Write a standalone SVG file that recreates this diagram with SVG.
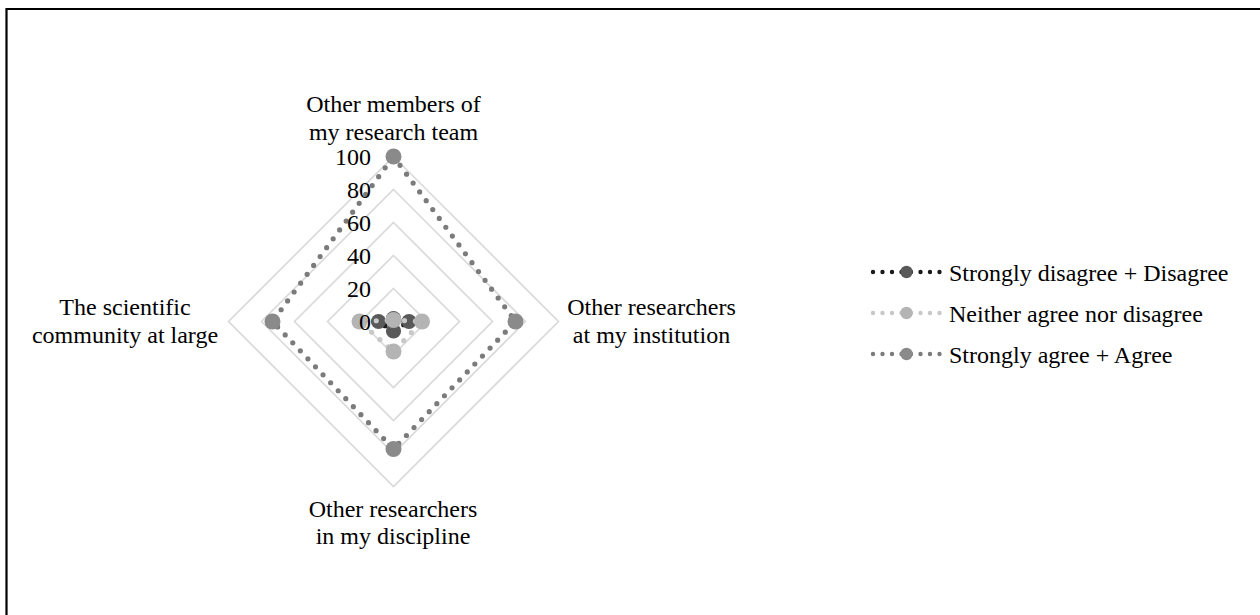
<svg xmlns="http://www.w3.org/2000/svg" width="1260" height="615" viewBox="0 0 1260 615">
<style>
  text { font-family: "Liberation Serif", "Times New Roman", serif; font-size: 24px; fill: #000; }
  .mid { text-anchor: middle; }
  .end { text-anchor: end; }
  .grid { fill: none; stroke: #d9d9d9; stroke-width: 1.6; }
  .ln { fill: none; stroke-linecap: round; stroke-linejoin: round; }
  .chart { stroke-width: 5.2; stroke-dasharray: 0 11; }
  .leg { stroke-width: 4.4; stroke-dasharray: 0 9.5; }
  .s1l { stroke: #1a1a1a; }
  .s2l { stroke: #c8c8c8; }
  .s3l { stroke: #7b7b7b; }
  .s1m { fill: #595959; }
  .s2m { fill: #b4b4b4; }
  .s3m { fill: #8a8a8a; }
</style>
<rect x="0" y="0" width="1260" height="615" fill="#fff"/>
<path d="M6.5 615 V9 H1262" fill="none" stroke="#000" stroke-width="2.2"/>

<g id="gridlines">
  <polygon class="grid" points="393.5,288.5 426.5,321.5 393.5,354.5 360.5,321.5"/>
  <polygon class="grid" points="393.5,255.5 459.5,321.5 393.5,387.5 327.5,321.5"/>
  <polygon class="grid" points="393.5,222.5 492.5,321.5 393.5,420.5 294.5,321.5"/>
  <polygon class="grid" points="393.5,189.5 525.5,321.5 393.5,453.5 261.5,321.5"/>
  <polygon class="grid" points="393.5,156.5 558.5,321.5 393.5,486.5 228.5,321.5"/>
</g>

<g id="connectors">
  <g id="series-disagree">
    <polygon class="ln chart s1l" points="393.5,318.5 409,321.5 393.5,331 378.5,321.5"/>
    <circle class="s1m" cx="393.5" cy="318.5" r="7.6"/>
    <circle class="s1m" cx="409" cy="321.5" r="7.6"/>
    <circle class="s1m" cx="393.5" cy="331" r="7.6"/>
    <circle class="s1m" cx="378.5" cy="321.5" r="7.6"/>
  </g>
  <g id="series-neither">
    <polygon class="ln chart s2l" points="393.5,320 422,321.5 393.5,351.5 359.5,321.5"/>
    <circle class="s2m" cx="393.5" cy="320" r="8"/>
    <circle class="s2m" cx="422" cy="321.5" r="8"/>
    <circle class="s2m" cx="393.5" cy="351.5" r="8"/>
    <circle class="s2m" cx="359.5" cy="321.5" r="8"/>
  </g>
  <g id="series-agree">
    <polygon class="ln chart s3l" points="393.5,156.5 515.5,321.5 393.5,449 272.5,321.5"/>
    <circle class="s3m" cx="393.5" cy="156.5" r="8"/>
    <circle class="s3m" cx="515.5" cy="321.5" r="8"/>
    <circle class="s3m" cx="393.5" cy="449" r="8"/>
    <circle class="s3m" cx="272.5" cy="321.5" r="8"/>
  </g>
</g>

<g id="axis-values">
  <text class="end" x="371" y="165">100</text>
  <text class="end" x="371" y="198">80</text>
  <text class="end" x="371" y="231">60</text>
  <text class="end" x="371" y="264">40</text>
  <text class="end" x="371" y="297">20</text>
  <text class="end" x="371" y="330">0</text>
</g>

<g id="label-top">
  <text class="mid" x="393.5" y="112">Other members of</text>
  <text class="mid" x="393.5" y="140">my research team</text>
</g>
<g id="label-right">
  <text class="mid" x="651.5" y="315">Other researchers</text>
  <text class="mid" x="651.5" y="343">at my institution</text>
</g>
<g id="label-bottom">
  <text class="mid" x="393" y="516.5">Other researchers</text>
  <text class="mid" x="393" y="544">in my discipline</text>
</g>
<g id="label-left">
  <text class="mid" x="125" y="315">The scientific</text>
  <text class="mid" x="125" y="343">community at large</text>
</g>

<g id="legend">
  <g id="legend-disagree">
    <line class="ln leg s1l" x1="873" y1="272" x2="940" y2="272"/>
    <circle class="s1m" cx="906.5" cy="272" r="6.2"/>
    <text x="949" y="280.5">Strongly disagree + Disagree</text>
  </g>
  <g id="legend-neither">
    <line class="ln leg s2l" x1="873" y1="313" x2="940" y2="313"/>
    <circle class="s2m" cx="906.5" cy="313" r="6.2"/>
    <text x="949" y="321.5">Neither agree nor disagree</text>
  </g>
  <g id="legend-agree">
    <line class="ln leg s3l" x1="873" y1="354" x2="940" y2="354"/>
    <circle class="s3m" cx="906.5" cy="354" r="6.2"/>
    <text x="949" y="362.5">Strongly agree + Agree</text>
  </g>
</g>
</svg>
